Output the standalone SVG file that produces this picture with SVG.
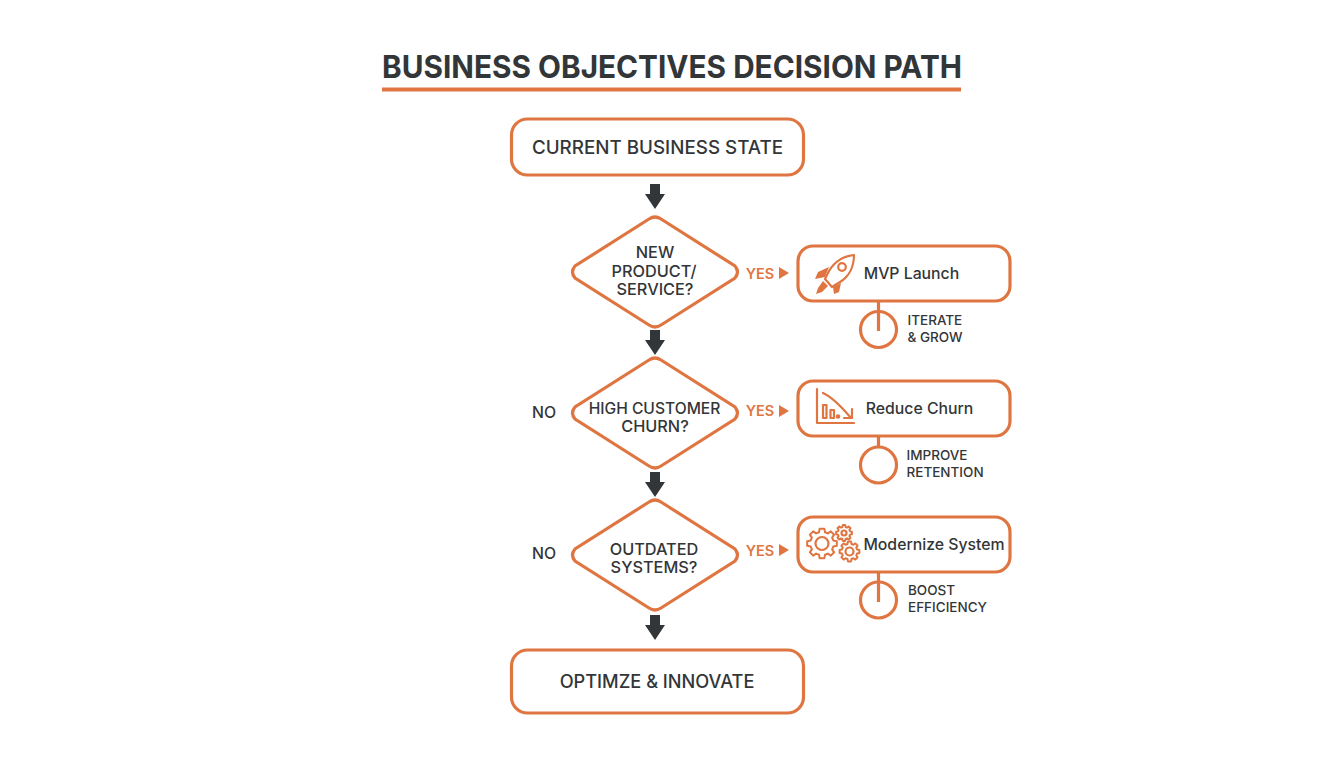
<svg xmlns="http://www.w3.org/2000/svg" width="1344" height="768" viewBox="0 0 1344 768">
<style>
text{font-family:Inter,"Liberation Sans",sans-serif;fill:#333638;font-weight:500;text-anchor:middle}
.box{fill:#fff;stroke:#df7642;stroke-width:3.2}
.yes{fill:#df7642;font-size:14.5px;font-weight:600}
.ya{fill:#df7642}
.da{fill:#333638}
.lnk{fill:none;stroke:#df7642;stroke-width:3.2}
.ic{fill:none;stroke:#df7642;stroke-width:2.2;stroke-linejoin:round;stroke-linecap:round}
.icf{fill:#df7642}
.gear{fill:none;stroke:#df7642;stroke-width:2;stroke-linejoin:round;vector-effect:non-scaling-stroke}
.t16{font-size:15.8px}
.t15{font-size:16.3px}
.t14{font-size:15.6px}
.t13{font-size:13.5px;text-anchor:start}
.t17{font-size:18.8px}
.t18{font-size:18.2px}
</style>
<defs>
<polygon id="da" class="da" points="-5,-13 5,-13 5,-3 10,-3 0,12 -10,-3 -5,-3"/>
<polygon id="ya" class="ya" points="0,-6 10,0 0,6"/>
<path id="dia" class="box" d="M-6,-53Q0,-57 6,-53L80,-6Q85,0 80,6L6,53Q0,57 -6,53L-80,6Q-85,0 -80,-6Z"/>
<polygon id="gear" class="gear" points="7.53,-2.02 9.88,-1.56 9.88,1.56 7.53,2.02 6.75,3.9 8.09,5.88 5.88,8.09 3.9,6.75 2.02,7.53 1.56,9.88 -1.56,9.88 -2.02,7.53 -3.9,6.75 -5.88,8.09 -8.09,5.88 -6.75,3.9 -7.53,2.02 -9.88,1.56 -9.88,-1.56 -7.53,-2.02 -6.75,-3.9 -8.09,-5.88 -5.88,-8.09 -3.9,-6.75 -2.02,-7.53 -1.56,-9.88 1.56,-9.88 2.02,-7.53 3.9,-6.75 5.88,-8.09 8.09,-5.88 6.75,-3.9"/>
</defs>
<rect width="1344" height="768" fill="#fff"/>
<g id="title">
<text x="672" y="77.500" style="font-size:31.5px;font-weight:700;" textLength="580" lengthAdjust="spacingAndGlyphs">BUSINESS OBJECTIVES DECISION PATH</text>
<rect x="382" y="87.500" width="579" height="4" fill="#df7642"/>
</g>
<g id="connectors">
<use href="#da" x="655" y="197"/>
<use href="#da" x="655" y="343"/>
<use href="#da" x="655" y="485"/>
<use href="#da" x="655" y="628"/>
<use href="#ya" x="779" y="273"/>
<use href="#ya" x="779" y="411"/>
<use href="#ya" x="779" y="550"/>
<path class="lnk" d="M878.500,301V331"/>
<path class="lnk" d="M878.500,437V447"/>
<path class="lnk" d="M878.500,572V602"/>
</g>
<g id="node-start">
<rect class="box" x="511.500" y="119" width="292" height="56" rx="16"/>
<text class="t17" x="657.500" y="153.500">CURRENT BUSINESS STATE</text>
</g>
<g id="node-d1">
<use href="#dia" x="655" y="272"/>
<text class="t15" x="655" y="257.500">NEW</text>
<text class="t15" x="654" y="276.500">PRODUCT/</text>
<text class="t15" x="655" y="295">SERVICE?</text>
<text class="yes" x="760" y="278.500">YES</text>
</g>
<g id="node-d2">
<use href="#dia" x="655" y="413"/>
<text class="t14" x="654.500" y="414">HIGH CUSTOMER</text>
<text class="t15" x="655" y="432">CHURN?</text>
<text class="t16" x="544" y="417.500">NO</text>
<text class="yes" x="760" y="416">YES</text>
</g>
<g id="node-d3">
<use href="#dia" x="655" y="555"/>
<text class="t15" x="654" y="555">OUTDATED</text>
<text class="t15" x="654" y="573">SYSTEMS?</text>
<text class="t16" x="544" y="558.500">NO</text>
<text class="yes" x="760" y="555.500">YES</text>
</g>
<g id="node-mvp">
<rect class="box" x="798" y="246" width="212" height="55" rx="15"/>
<g>
<path class="ic" d="M854,255C845,256 835,261 829,271L825,279L832,287L840,282C850,276 854,265 854,255Z"/>
<circle class="ic" cx="842" cy="267" r="3.800"/>
<path class="icf" d="M829,267L818,272L815,279L825,277ZM841,283L839,292L834,294L833,287Z"/>
<path class="icf" d="M823,281L828,286L822,292L816,294L818,288Z"/>
</g>
<text class="t16" x="911.500" y="278.500">MVP Launch</text>
</g>
<g id="node-iterate">
<circle class="lnk" cx="878.500" cy="329.500" r="18"/>
<text class="t13" x="907.500" y="325">ITERATE</text>
<text class="t13" x="907.500" y="342">&amp; GROW</text>
</g>
<g id="node-churn">
<rect class="box" x="798" y="381" width="212" height="55" rx="15"/>
<g class="ic">
<path d="M817,389V423H854"/>
<path d="M823,393C832,397 840,405 851,418M852,409V418H844"/>
<rect x="823" y="405" width="3.500" height="13"/>
<rect x="830.500" y="410" width="3.500" height="8"/>
<circle cx="838" cy="416.500" r="1.200"/>
</g>
<text class="t16" x="919.500" y="414">Reduce Churn</text>
</g>
<g id="node-improve">
<circle class="lnk" cx="878.500" cy="465" r="18"/>
<text class="t13" x="906.500" y="460">IMPROVE</text>
<text class="t13" x="906.500" y="477">RETENTION</text>
</g>
<g id="node-modernize">
<rect class="box" x="798" y="517" width="212" height="55" rx="15"/>
<use href="#gear" transform="translate(822 543.500) scale(1.500)"/>
<use href="#gear" transform="translate(844 533) scale(.8)"/>
<use href="#gear" transform="translate(849.500 551.500) scale(1)"/>
<g class="ic">
<circle cx="822" cy="543.500" r="6.500"/>
<circle cx="844" cy="533" r="2.500"/>
<circle cx="849.500" cy="551.500" r="4"/>
</g>
<text class="t16" x="934" y="549.500">Modernize System</text>
</g>
<g id="node-boost">
<circle class="lnk" cx="878.500" cy="600" r="18"/>
<text class="t13" x="908" y="595">BOOST</text>
<text class="t13" x="908" y="612">EFFICIENCY</text>
</g>
<g id="node-end">
<rect class="box" x="511.500" y="650" width="292" height="63" rx="16"/>
<text class="t18" x="657" y="688">OPTIMZE &amp; INNOVATE</text>
</g>
</svg>
